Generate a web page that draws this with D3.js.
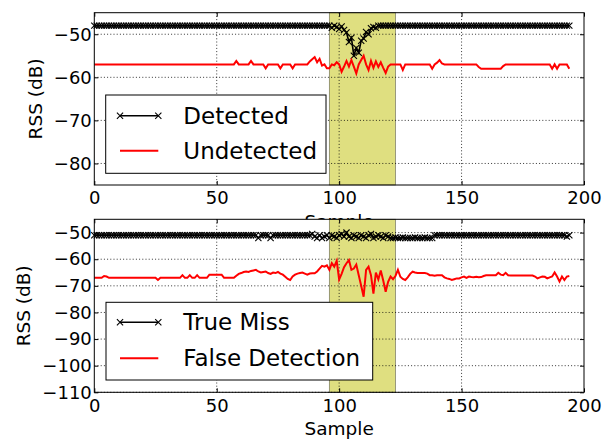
<!DOCTYPE html>
<html><head><meta charset="utf-8">
<script src="https://cdn.jsdelivr.net/npm/d3@7"></script>
<style>body{margin:0;background:#fff}svg{display:block}text{font-family:"DejaVu Sans",sans-serif;fill:#000}</style>
</head><body><svg id="c" width="605" height="439"></svg>
<script>
const xTicks = [0, 50, 100, 150, 200];
const topYTicks = [-50, -60, -70, -80];
const botYTicks = [-50, -60, -70, -80, -90, -100, -110];
const shadeSpan = [96, 123];
const topLegend = ["Detected", "Undetected"];
const botLegend = ["True Miss", "False Detection"];

const detected = [
-48,-48,-48,-48,-48,-48,-48,-48,-48,-48,
-48,-48,-48,-48,-48,-48,-48,-48,-48,-48,
-48,-48,-48,-48,-48,-48,-48,-48,-48,-48,
-48,-48,-48,-48,-48,-48,-48,-48,-48,-48,
-48,-48,-48,-48,-48,-48,-48,-48,-48,-48,
-48,-48,-48,-48,-48,-48,-48,-48,-48,-48,
-48,-48,-48,-48,-48,-48,-48,-48,-48,-48,
-48,-48,-48,-48,-48,-48,-48,-48,-48,-48,
-48,-48,-48,-48,-48,-48,-48,-48,-48,-48,
-48,-48,-48,-48,-48,-48,-48,-48.5,-48,-48.3,
-48.8,-48.2,-49,-49.6,-51.8,-50.8,-55,-53.2,-54.3,-51.5,
-51,-49.5,-50,-48.6,-48.3,-48.5,-48,-48,-48,-48,
-48,-48,-48,-48,-48,-48,-48,-48,-48,-48,
-48,-48,-48,-48,-48,-48,-48,-48,-48,-48,
-48,-48,-48,-48,-48,-48,-48,-48,-48,-48,
-48,-48,-48,-48,-48,-48,-48,-48,-48,-48,
-48,-48,-48,-48,-48,-48,-48,-48,-48,-48,
-48,-48,-48,-48,-48,-48,-48,-48,-48,-48,
-48,-48,-48,-48,-48,-48,-48,-48,-48,-48,
-48,-48,-48,-48,-48];

const undetected = [
-57,-57,-57,-57,-57,-57,-57,-57,-57,-57,
-57,-57,-57,-57,-57,-57,-57,-57,-57,-57,
-57,-57,-57,-57,-57,-57,-57,-57,-57,-57,
-57,-57,-57,-57,-57,-57,-57,-57,-57,-57,
-57,-57,-57,-57,-57,-57,-57,-57,-57,-57,
-57,-57,-57,-57,-57,-57,-57,-57,-56.2,-57,
-57,-57,-57,-57,-56.2,-57,-57,-57,-57,-57,
-57.9,-57,-57,-57,-57,-57,-57.9,-57,-57,-57,
-57,-57.9,-57,-57,-57,-57,-57,-57,-56.3,-55.8,
-55.3,-56.5,-55.7,-57.3,-57,-57.9,-57.9,-57,-57.2,-56.5,
-57,-58.7,-57.5,-56.2,-57.5,-56,-57.5,-59.1,-57,-56,
-55,-57,-58.3,-56.2,-57.8,-56.3,-57.6,-56.5,-57.8,-59,
-57.5,-57,-57,-57,-57,-57,-58.3,-57,-57,-57,
-57,-57,-57,-57,-57,-57,-57,-57,-58,-57,
-56.6,-56,-56.8,-57,-57,-57,-57,-57,-57,-57,
-57,-57,-57,-57,-57,-57,-57,-57.6,-58,-58,
-58,-58,-58,-58,-58,-58,-58,-57.4,-57,-57,
-57,-57,-57,-57,-57,-57,-57,-57,-57,-57,
-57,-57,-57,-57,-57,-57,-57,-58,-57,-58,
-57,-57,-57,-57,-58];

const trueMiss = [
-51,-51,-51,-51,-51,-51,-51,-51,-51,-51,
-51,-51,-51,-51,-51,-51,-51,-51,-51,-51,
-51,-51,-51,-51,-51,-51,-51,-51,-51,-51,
-51,-51,-51,-51,-51,-51,-51,-51,-51,-51,
-51,-51,-51,-51,-51,-51,-51,-51,-51,-51,
-51,-51,-51,-51,-51,-51,-51,-51,-51,-51,
-51,-51,-51,-51,-51,-51,-51,-52,-51,-51,
-51,-51,-52,-51,-51,-51,-51,-51,-51,-51,
-51,-51,-51,-51,-51,-51,-51,-51,-51,-50.5,
-51.5,-52,-51,-52,-51.5,-51,-52,-51,-51.5,-52,
-51,-50.5,-51.5,-50,-51.5,-52,-51,-51.5,-52,-51,
-51.5,-52,-51,-50.5,-52,-51.5,-51,-51.5,-52,-51,
-51.5,-52,-52,-51.8,-52,-52,-51.8,-52,-52,-52,
-52,-51.8,-52,-52,-52,-51.8,-52,-52,-52,-51,
-51,-51,-51,-51,-51,-51,-51,-51,-51,-51,
-51,-51,-51,-51,-51,-51,-51,-51,-51,-51,
-51,-51,-51,-51,-51,-51,-51,-51,-51,-51,
-51,-51,-51,-51,-51,-51,-51,-51,-51,-51,
-51,-51,-51,-51,-51,-51,-51,-51,-51,-51,
-51,-51,-51,-51.5,-51];

const falseDetection = [
-67,-67,-67,-67,-66.3,-66.5,-67,-67,-67,-67,
-67,-67,-67,-67,-67,-67,-67,-67,-67,-67,
-67,-67,-67,-67,-67,-67,-67.8,-67,-67,-67,
-67,-67,-67,-67,-67,-67,-66,-67,-67,-66,
-67,-67,-66,-67,-67,-67,-67,-65.8,-65.8,-65.8,
-65.8,-65.8,-65.8,-67,-67,-67,-67,-67,-66.2,-65.5,
-65.2,-64.8,-64.6,-64.8,-64.4,-64.2,-64,-64.6,-65,-64.8,
-64.6,-65.2,-65.5,-65,-65.2,-64.8,-65.4,-65.8,-66.6,-67.4,
-67.8,-66.5,-65.8,-65.4,-65.2,-65,-65.4,-65.8,-65.4,-65.3,
-65.3,-64.6,-63.5,-62.5,-62.8,-62.3,-64,-61.5,-62.8,-60.6,
-67.6,-65.5,-63,-61.5,-60.3,-64,-63.5,-62,-66,-70,
-74.1,-64,-62.8,-66,-72.9,-65,-67.6,-64.2,-68,-72.2,
-68.5,-66.5,-67.5,-66.3,-64,-66.6,-67.4,-67.8,-66.8,-65.5,
-64.7,-65,-65.2,-65.2,-65.2,-65.2,-65.4,-66,-66,-66.2,
-66,-66,-66,-66.8,-67.2,-67.4,-67.8,-67.5,-67.2,-67.2,
-66.8,-66.5,-67,-66.5,-66.7,-66.8,-66.6,-66.8,-66.7,-66.3,
-66,-66,-66,-66,-66,-65.1,-65.8,-66,-65.1,-66,
-66.1,-66.1,-66.1,-66.1,-66.1,-66.1,-66.1,-66.1,-66.1,-66.1,
-66.5,-67.2,-66.8,-66.5,-66.6,-67.2,-66.8,-66.5,-65,-66.5,
-68.4,-66.5,-67.8,-66.5,-66.3];

const svg = d3.select("#c");
const X0 = 94.3, X1 = 584;
const x = d3.scaleLinear().domain([0, 200]).range([X0, X1]);
const MR = 3.1;

function cross(sel, cx, cy) {
  sel.append("path").attr("d", `M${cx - MR},${cy - MR}L${cx + MR},${cy + MR}M${cx - MR},${cy + MR}L${cx + MR},${cy - MR}`);
}

function panel(cfg) {
  const y = d3.scaleLinear().domain(cfg.domain).range([cfg.bottom, cfg.top]);
  const g = svg.append("g");
  g.append("rect").attr("x", X0).attr("y", cfg.top).attr("width", X1 - X0).attr("height", cfg.bottom - cfg.top).attr("fill", "#fff");
  g.append("rect").attr("x", x(shadeSpan[0])).attr("y", cfg.top).attr("width", x(shadeSpan[1]) - x(shadeSpan[0]))
    .attr("height", cfg.bottom - cfg.top).attr("fill", "#dfdf80").attr("stroke", "rgba(0,0,0,0.45)").attr("stroke-width", 0.8);
  const grid = g.append("g").attr("stroke", "#000").attr("stroke-width", 0.8).attr("stroke-dasharray", "1,2.2");
  xTicks.filter(t => t > 0 && t < 200).forEach(t => grid.append("line").attr("x1", x(t)).attr("x2", x(t)).attr("y1", cfg.top).attr("y2", cfg.bottom));
  cfg.yTicks.forEach(t => grid.append("line").attr("x1", X0).attr("x2", X1).attr("y1", y(t)).attr("y2", y(t)));
  const line = d3.line().x((d, i) => x(i)).y(d => y(d));
  g.append("path").datum(cfg.s1).attr("d", line).attr("fill", "none").attr("stroke", "#000").attr("stroke-width", 1.6);
  const mk = g.append("g").attr("stroke", "#000").attr("stroke-width", 1.1);
  cfg.s1.forEach((d, i) => cross(mk, x(i), y(d)));
  g.append("path").datum(cfg.s2).attr("d", line).attr("fill", "none").attr("stroke", "#ff0000").attr("stroke-width", 2);
  const fs = "18px";
  const ax = g.append("g").attr("transform", `translate(0,${cfg.bottom})`)
    .call(d3.axisBottom(x).tickValues(xTicks).tickSize(-4).tickPadding(6.5).tickFormat(d3.format("d")));
  const axT = g.append("g").attr("transform", `translate(0,${cfg.top})`)
    .call(d3.axisTop(x).tickValues(xTicks).tickSize(-4).tickFormat(""));
  const ay = g.append("g").attr("transform", `translate(${X0},0)`)
    .call(d3.axisLeft(y).tickValues(cfg.yTicks).tickSize(-4).tickPadding(2.5));
  const ayR = g.append("g").attr("transform", `translate(${X1},0)`)
    .call(d3.axisRight(y).tickValues(cfg.yTicks).tickSize(-4).tickFormat(""));
  [ax, axT, ay, ayR].forEach(a => {
    a.select(".domain").remove();
    a.selectAll("text").attr("font-size", fs).attr("font-family", "DejaVu Sans").attr("fill", "#000");
    a.selectAll("line").attr("stroke", "#000");
  });
  g.append("rect").attr("x", X0).attr("y", cfg.top).attr("width", X1 - X0).attr("height", cfg.bottom - cfg.top)
    .attr("fill", "none").attr("stroke", "#000").attr("stroke-width", 1);
  g.append("text").attr("x", (X0 + X1) / 2).attr("y", cfg.bottom + 29.5).attr("dy", "0.73em").attr("text-anchor", "middle")
    .attr("font-size", "18.5px").text("Sample");
  g.append("text").attr("transform", `translate(${cfg.ylabX},${(cfg.top + cfg.bottom) / 2}) rotate(-90)`)
    .attr("text-anchor", "middle").attr("dominant-baseline", "central").attr("font-size", "18.5px").text("RSS (dB)");
  const L = cfg.legend;
  const lg = g.append("g");
  lg.append("rect").attr("x", L.x0).attr("y", L.y0).attr("width", L.x1 - L.x0).attr("height", L.y1 - L.y0)
    .attr("fill", "#fff").attr("stroke", "#000").attr("stroke-width", 1);
  L.rows.forEach((ry, k) => {
    const col = k === 0 ? "#000" : "#ff0000";
    lg.append("line").attr("x1", 120).attr("x2", 158.3).attr("y1", ry).attr("y2", ry).attr("stroke", col).attr("stroke-width", k === 0 ? 1.6 : 2);
    if (k === 0) {
      const m = lg.append("g").attr("stroke", "#000").attr("stroke-width", 1.1);
      [120, 158.3].forEach(cx => cross(m, cx, ry));
    }
    lg.append("text").attr("x", 183.3).attr("y", ry).attr("dominant-baseline", "central").attr("font-size", "23px").text(cfg.labels[k]);
  });
}

panel({ domain: [-85, -45], top: 12.7, bottom: 185, yTicks: topYTicks, s1: detected, s2: undetected, ylabX: 35,
  labels: topLegend, legend: { x0: 105.7, y0: 95, x1: 326, y1: 173.3, rows: [115.7, 150.7] } });
panel({ domain: [-110, -45], top: 219.3, bottom: 392.3, yTicks: botYTicks, s1: trueMiss, s2: falseDetection, ylabX: 23,
  labels: botLegend, legend: { x0: 106, y0: 302.3, x1: 372.7, y1: 380, rows: [322.3, 358.3] } });
</script></body></html>
